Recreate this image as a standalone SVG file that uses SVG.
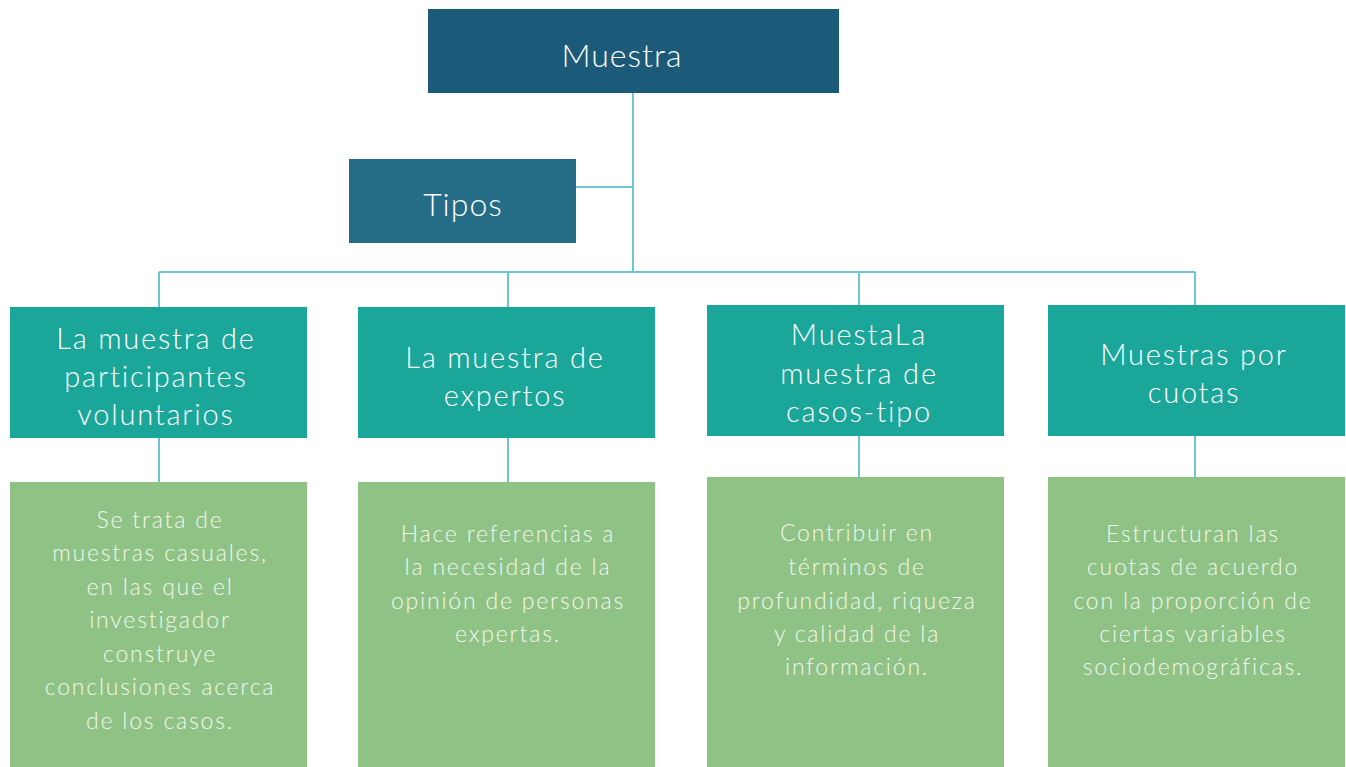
<svg xmlns="http://www.w3.org/2000/svg" width="1346" height="767" viewBox="0 0 1346 767">
<style>
.t{font-family:Lato,"Open Sans",sans-serif;font-weight:300;fill:#ffffff;text-anchor:middle;dominant-baseline:central}
.h{font-size:29px;letter-spacing:1.8px}
.b{font-size:23px;letter-spacing:1.8px;fill:#f4f6ee}
.m{font-size:32px;letter-spacing:1px}
.c{stroke:#6cc6d3;stroke-width:2;fill:none}
.teal{fill:#1ba69a}
.green{fill:#8ec385}
</style>
<rect width="1346" height="767" fill="#ffffff"/>
<g id="connectors">
<path class="c" d="M633 93V272M576 187H633M159 272H1195M159 272V307M508 272V307M859 272V305M1195 272V305"/>
<path class="c" d="M159 438V482M508 438V482M859 436V477M1195 436V477"/>
</g>
<g id="muestra"><rect x="428" y="9" width="411" height="84" fill="#1c5a7a"/><text class="t m" x="622" y="54">Muestra</text></g>
<g id="tipos"><rect x="349" y="159" width="227" height="84" fill="#256c87"/><text class="t m" x="463" y="203">Tipos</text></g>
<g id="voluntarios"><rect class="teal" x="10" y="307" width="297" height="131"/>
<text class="t h"><tspan x="156" y="337">La muestra de</tspan><tspan x="156" y="375">participantes</tspan><tspan x="156" y="413">voluntarios</tspan></text></g>
<g id="expertos"><rect class="teal" x="358" y="307" width="297" height="131"/>
<text class="t h"><tspan x="505" y="356">La muestra de</tspan><tspan x="505" y="394">expertos</tspan></text></g>
<g id="casos"><rect class="teal" x="707" y="305" width="297" height="131"/>
<text class="t h"><tspan x="859" y="333">MuestaLa</tspan><tspan x="859" y="372">muestra de</tspan><tspan x="859" y="410">casos-tipo</tspan></text></g>
<g id="cuotas"><rect class="teal" x="1048" y="305" width="297" height="131"/>
<text class="t h"><tspan x="1194" y="353">Muestras por</tspan><tspan x="1194" y="391">cuotas</tspan></text></g>
<g id="desc1"><rect class="green" x="10" y="482" width="297" height="285"/>
<text class="t b"><tspan x="160" y="519">Se trata de</tspan><tspan x="160" y="552">muestras casuales,</tspan><tspan x="160" y="586">en las que el</tspan><tspan x="160" y="619">investigador</tspan><tspan x="160" y="653">construye</tspan><tspan x="160" y="686">conclusiones acerca</tspan><tspan x="160" y="720">de los casos.</tspan></text></g>
<g id="desc2"><rect class="green" x="358" y="482" width="297" height="285"/>
<text class="t b"><tspan x="508" y="533">Hace referencias a</tspan><tspan x="508" y="566">la necesidad de la</tspan><tspan x="508" y="600">opinión de personas</tspan><tspan x="508" y="633">expertas.</tspan></text></g>
<g id="desc3"><rect class="green" x="707" y="477" width="297" height="290"/>
<text class="t b"><tspan x="857" y="532">Contribuir en</tspan><tspan x="857" y="566">términos de</tspan><tspan x="857" y="600">profundidad, riqueza</tspan><tspan x="857" y="633">y calidad de la</tspan><tspan x="857" y="666">información.</tspan></text></g>
<g id="desc4"><rect class="green" x="1048" y="477" width="297" height="290"/>
<text class="t b"><tspan x="1193" y="533">Estructuran las</tspan><tspan x="1193" y="566">cuotas de acuerdo</tspan><tspan x="1193" y="600">con la proporción de</tspan><tspan x="1193" y="633">ciertas variables</tspan><tspan x="1193" y="666">sociodemográficas.</tspan></text></g>
</svg>
